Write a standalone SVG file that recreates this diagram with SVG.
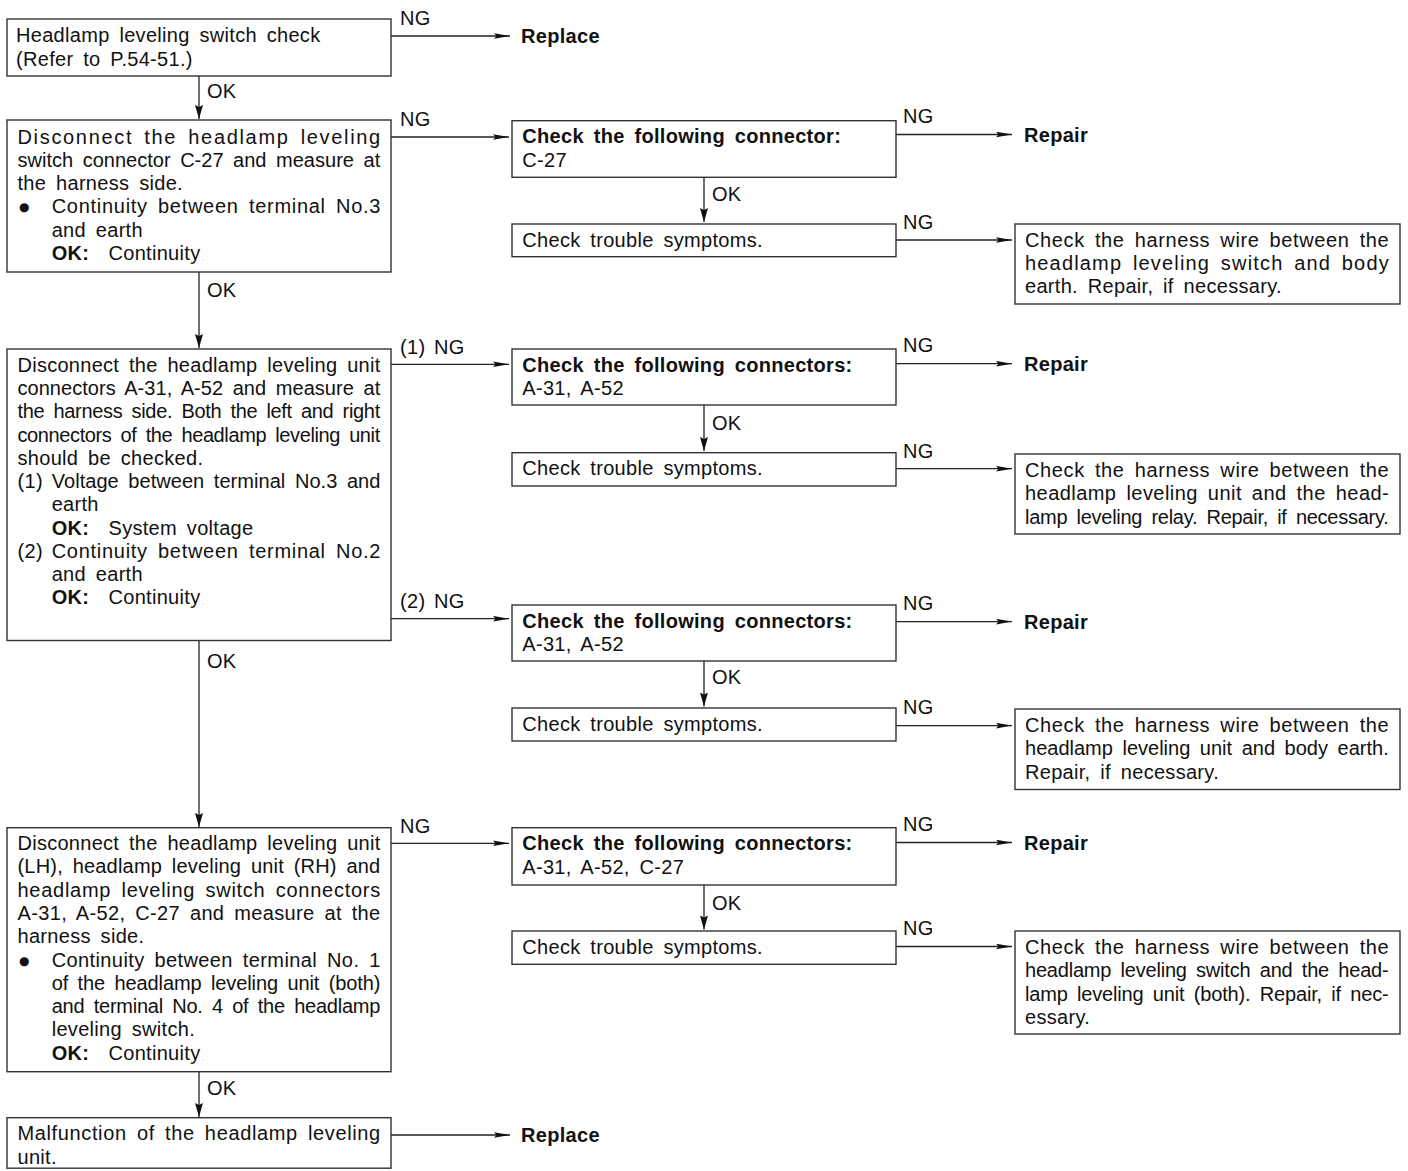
<svg xmlns="http://www.w3.org/2000/svg" width="1408" height="1171" viewBox="0 0 1408 1171">
<style>
.t{font-family:"Liberation Sans",Arial,Helvetica,sans-serif;font-size:20px;letter-spacing:0.3px;word-spacing:4px;fill:#111}
.b{font-weight:bold}
.bul{font-family:"DejaVu Sans",sans-serif;font-size:12px;fill:#111}
.box{fill:#fff;stroke:#333;stroke-width:1.4}
.ln{stroke:#222;stroke-width:1.3;fill:none}
.h{marker-end:url(#ah)}
.v{marker-end:url(#av)}
</style>
<defs>
<marker id="ah" markerUnits="userSpaceOnUse" markerWidth="17" markerHeight="7" refX="16" refY="3" orient="auto"><path d="M0,0.2 L16,3 L0,5.8 L2.5,3 z" fill="#111"/></marker>
<marker id="av" markerUnits="userSpaceOnUse" markerWidth="15" markerHeight="9" refX="14" refY="4" orient="auto"><path d="M0,0 L14,4 L0,8 L2,4 z" fill="#111"/></marker>
</defs>
<rect width="1408" height="1171" fill="#fff"/>

<g id="connectors">
<line class="ln v" x1="199" y1="76" x2="199" y2="119"/>
<line class="ln v" x1="199" y1="272" x2="199" y2="348"/>
<line class="ln v" x1="199" y1="640.5" x2="199" y2="827"/>
<line class="ln v" x1="199" y1="1071.7" x2="199" y2="1117"/>
<line class="ln v" x1="704" y1="177.3" x2="704" y2="222"/>
<line class="ln v" x1="704" y1="405" x2="704" y2="451"/>
<line class="ln v" x1="704" y1="661" x2="704" y2="706.5"/>
<line class="ln v" x1="704" y1="885" x2="704" y2="929.5"/>
<line class="ln h" x1="391" y1="36" x2="510" y2="36"/>
<line class="ln h" x1="391" y1="137" x2="509" y2="137"/>
<line class="ln h" x1="391" y1="364.3" x2="509" y2="364.3"/>
<line class="ln h" x1="391" y1="618.7" x2="509" y2="618.7"/>
<line class="ln h" x1="391" y1="843.3" x2="509" y2="843.3"/>
<line class="ln h" x1="391" y1="1135" x2="510" y2="1135"/>
<line class="ln h" x1="896" y1="134.5" x2="1012" y2="134.5"/>
<line class="ln h" x1="896" y1="240" x2="1012" y2="240"/>
<line class="ln h" x1="896" y1="363.7" x2="1012" y2="363.7"/>
<line class="ln h" x1="896" y1="468.7" x2="1012" y2="468.7"/>
<line class="ln h" x1="896" y1="621.6" x2="1012" y2="621.6"/>
<line class="ln h" x1="896" y1="725.6" x2="1012" y2="725.6"/>
<line class="ln h" x1="896" y1="842.5" x2="1012" y2="842.5"/>
<line class="ln h" x1="896" y1="946.5" x2="1012" y2="946.5"/>
<text class="t" x="207" y="98">OK</text>
<text class="t" x="207" y="297">OK</text>
<text class="t" x="207" y="668">OK</text>
<text class="t" x="207" y="1095">OK</text>
<text class="t" x="712" y="201">OK</text>
<text class="t" x="712" y="430">OK</text>
<text class="t" x="712" y="684">OK</text>
<text class="t" x="712" y="910">OK</text>
<text class="t" x="400" y="25">NG</text>
<text class="t" x="400" y="126">NG</text>
<text class="t" x="400" y="354">(1)</text><text class="t" x="434" y="354">NG</text>
<text class="t" x="400" y="607.5">(2)</text><text class="t" x="434" y="607.5">NG</text>
<text class="t" x="400" y="832.7">NG</text>
<text class="t" x="903" y="123">NG</text>
<text class="t" x="903" y="228.5">NG</text>
<text class="t" x="903" y="351.5">NG</text>
<text class="t" x="903" y="458">NG</text>
<text class="t" x="903" y="609.5">NG</text>
<text class="t" x="903" y="714">NG</text>
<text class="t" x="903" y="831">NG</text>
<text class="t" x="903" y="935">NG</text>
</g>

<g id="n1">
<rect class="box" x="7" y="19" width="384" height="57"/>
<text class="t" x="16" y="41.7">Headlamp leveling switch check</text>
<text class="t" x="16" y="65.5">(Refer to P.54-51.)</text>
</g>
<g id="replace1"><text class="t b" x="521" y="42.5">Replace</text></g>

<g id="n2">
<rect class="box" x="7" y="120" width="384" height="152"/>
<text class="t" x="17.5" y="143.5" textLength="363" lengthAdjust="spacing">Disconnect the headlamp leveling</text>
<text class="t" x="17.5" y="166.8" textLength="363" lengthAdjust="spacing">switch connector C-27 and measure at</text>
<text class="t" x="17.5" y="190">the harness side.</text>
<text class="bul" x="19" y="211.3">●</text>
<text class="t" x="51.7" y="213.3" textLength="329" lengthAdjust="spacing">Continuity between terminal No.3</text>
<text class="t" x="51.7" y="236.6">and earth</text>
<text class="t b" x="51.7" y="260">OK:</text><text class="t" x="108.5" y="260">Continuity</text>
</g>

<g id="n3">
<rect class="box" x="7" y="349" width="384" height="291.5"/>
<text class="t" x="17.5" y="371.7" textLength="363" lengthAdjust="spacing">Disconnect the headlamp leveling unit</text>
<text class="t" x="17.5" y="394.9" textLength="363" lengthAdjust="spacing">connectors A-31, A-52 and measure at</text>
<text class="t" x="17.5" y="418.2" textLength="363" lengthAdjust="spacing">the harness side. Both the left and right</text>
<text class="t" x="17.5" y="441.5" textLength="363" lengthAdjust="spacing">connectors of the headlamp leveling unit</text>
<text class="t" x="17.5" y="464.8">should be checked.</text>
<text class="t" x="17.5" y="488">(1)</text>
<text class="t" x="51.7" y="488" textLength="329" lengthAdjust="spacing">Voltage between terminal No.3 and</text>
<text class="t" x="51.7" y="511.3">earth</text>
<text class="t b" x="51.7" y="534.6">OK:</text><text class="t" x="108.5" y="534.6">System voltage</text>
<text class="t" x="17.5" y="557.9">(2)</text>
<text class="t" x="51.7" y="557.9" textLength="329" lengthAdjust="spacing">Continuity between terminal No.2</text>
<text class="t" x="51.7" y="581.2">and earth</text>
<text class="t b" x="51.7" y="604.4">OK:</text><text class="t" x="108.5" y="604.4">Continuity</text>
</g>

<g id="n4">
<rect class="box" x="7" y="827.7" width="384" height="244"/>
<text class="t" x="17.5" y="850" textLength="363" lengthAdjust="spacing">Disconnect the headlamp leveling unit</text>
<text class="t" x="17.5" y="873.3" textLength="363" lengthAdjust="spacing">(LH), headlamp leveling unit (RH) and</text>
<text class="t" x="17.5" y="896.6" textLength="363" lengthAdjust="spacing">headlamp leveling switch connectors</text>
<text class="t" x="17.5" y="919.9" textLength="363" lengthAdjust="spacing">A-31, A-52, C-27 and measure at the</text>
<text class="t" x="17.5" y="943.2">harness side.</text>
<text class="bul" x="19" y="964.5">●</text>
<text class="t" x="51.7" y="966.5" textLength="329" lengthAdjust="spacing">Continuity between terminal No. 1</text>
<text class="t" x="51.7" y="989.8" textLength="329" lengthAdjust="spacing">of the headlamp leveling unit (both)</text>
<text class="t" x="51.7" y="1013.1" textLength="329" lengthAdjust="spacing">and terminal No. 4 of the headlamp</text>
<text class="t" x="51.7" y="1036.4">leveling switch.</text>
<text class="t b" x="51.7" y="1059.7">OK:</text><text class="t" x="108.5" y="1059.7">Continuity</text>
</g>

<g id="n5">
<rect class="box" x="7" y="1117.7" width="384" height="50.5"/>
<text class="t" x="17.5" y="1140.3" textLength="363" lengthAdjust="spacing">Malfunction of the headlamp leveling</text>
<text class="t" x="17.5" y="1163.5">unit.</text>
</g>
<g id="replace2"><text class="t b" x="521" y="1141.5">Replace</text></g>

<g id="c1">
<rect class="box" x="512" y="120.7" width="384" height="56.6"/>
<text class="t b" x="522.3" y="143.3">Check the following connector:</text>
<text class="t" x="522.3" y="166.7">C-27</text>
</g>
<g id="c2">
<rect class="box" x="512" y="224" width="384" height="32.7"/>
<text class="t" x="522.3" y="246.7">Check trouble symptoms.</text>
</g>
<g id="c3">
<rect class="box" x="512" y="349" width="384" height="56"/>
<text class="t b" x="522.3" y="371.7">Check the following connectors:</text>
<text class="t" x="522.3" y="395">A-31, A-52</text>
</g>
<g id="c4">
<rect class="box" x="512" y="452.7" width="384" height="33.3"/>
<text class="t" x="522.3" y="475">Check trouble symptoms.</text>
</g>
<g id="c5">
<rect class="box" x="512" y="605" width="384" height="56"/>
<text class="t b" x="522.3" y="627.5">Check the following connectors:</text>
<text class="t" x="522.3" y="651">A-31, A-52</text>
</g>
<g id="c6">
<rect class="box" x="512" y="708" width="384" height="33"/>
<text class="t" x="522.3" y="730.5">Check trouble symptoms.</text>
</g>
<g id="c7">
<rect class="box" x="512" y="827.7" width="384" height="57.3"/>
<text class="t b" x="522.3" y="850">Check the following connectors:</text>
<text class="t" x="522.3" y="874">A-31, A-52, C-27</text>
</g>
<g id="c8">
<rect class="box" x="512" y="931" width="384" height="33.3"/>
<text class="t" x="522.3" y="954">Check trouble symptoms.</text>
</g>

<g id="repair1"><text class="t b" x="1024" y="141.5">Repair</text></g>
<g id="repair2"><text class="t b" x="1024" y="370.5">Repair</text></g>
<g id="repair3"><text class="t b" x="1024" y="629">Repair</text></g>
<g id="repair4"><text class="t b" x="1024" y="849.5">Repair</text></g>

<g id="r1">
<rect class="box" x="1015" y="224" width="385" height="80"/>
<text class="t" x="1025" y="246.5" textLength="364" lengthAdjust="spacing">Check the harness wire between the</text>
<text class="t" x="1025" y="270" textLength="364" lengthAdjust="spacing">headlamp leveling switch and body</text>
<text class="t" x="1025" y="293.3">earth. Repair, if necessary.</text>
</g>
<g id="r2">
<rect class="box" x="1015" y="454" width="385" height="80"/>
<text class="t" x="1025" y="476.5" textLength="364" lengthAdjust="spacing">Check the harness wire between the</text>
<text class="t" x="1025" y="500" textLength="364" lengthAdjust="spacing">headlamp leveling unit and the head-</text>
<text class="t" x="1025" y="523.5" textLength="364" lengthAdjust="spacing">lamp leveling relay. Repair, if necessary.</text>
</g>
<g id="r3">
<rect class="box" x="1015" y="709" width="385" height="80.5"/>
<text class="t" x="1025" y="731.5" textLength="364" lengthAdjust="spacing">Check the harness wire between the</text>
<text class="t" x="1025" y="755" textLength="364" lengthAdjust="spacing">headlamp leveling unit and body earth.</text>
<text class="t" x="1025" y="778.5">Repair, if necessary.</text>
</g>
<g id="r4">
<rect class="box" x="1015" y="931" width="385" height="103"/>
<text class="t" x="1025" y="953.5" textLength="364" lengthAdjust="spacing">Check the harness wire between the</text>
<text class="t" x="1025" y="977" textLength="364" lengthAdjust="spacing">headlamp leveling switch and the head-</text>
<text class="t" x="1025" y="1000.5" textLength="364" lengthAdjust="spacing">lamp leveling unit (both). Repair, if nec-</text>
<text class="t" x="1025" y="1024">essary.</text>
</g>
</svg>
